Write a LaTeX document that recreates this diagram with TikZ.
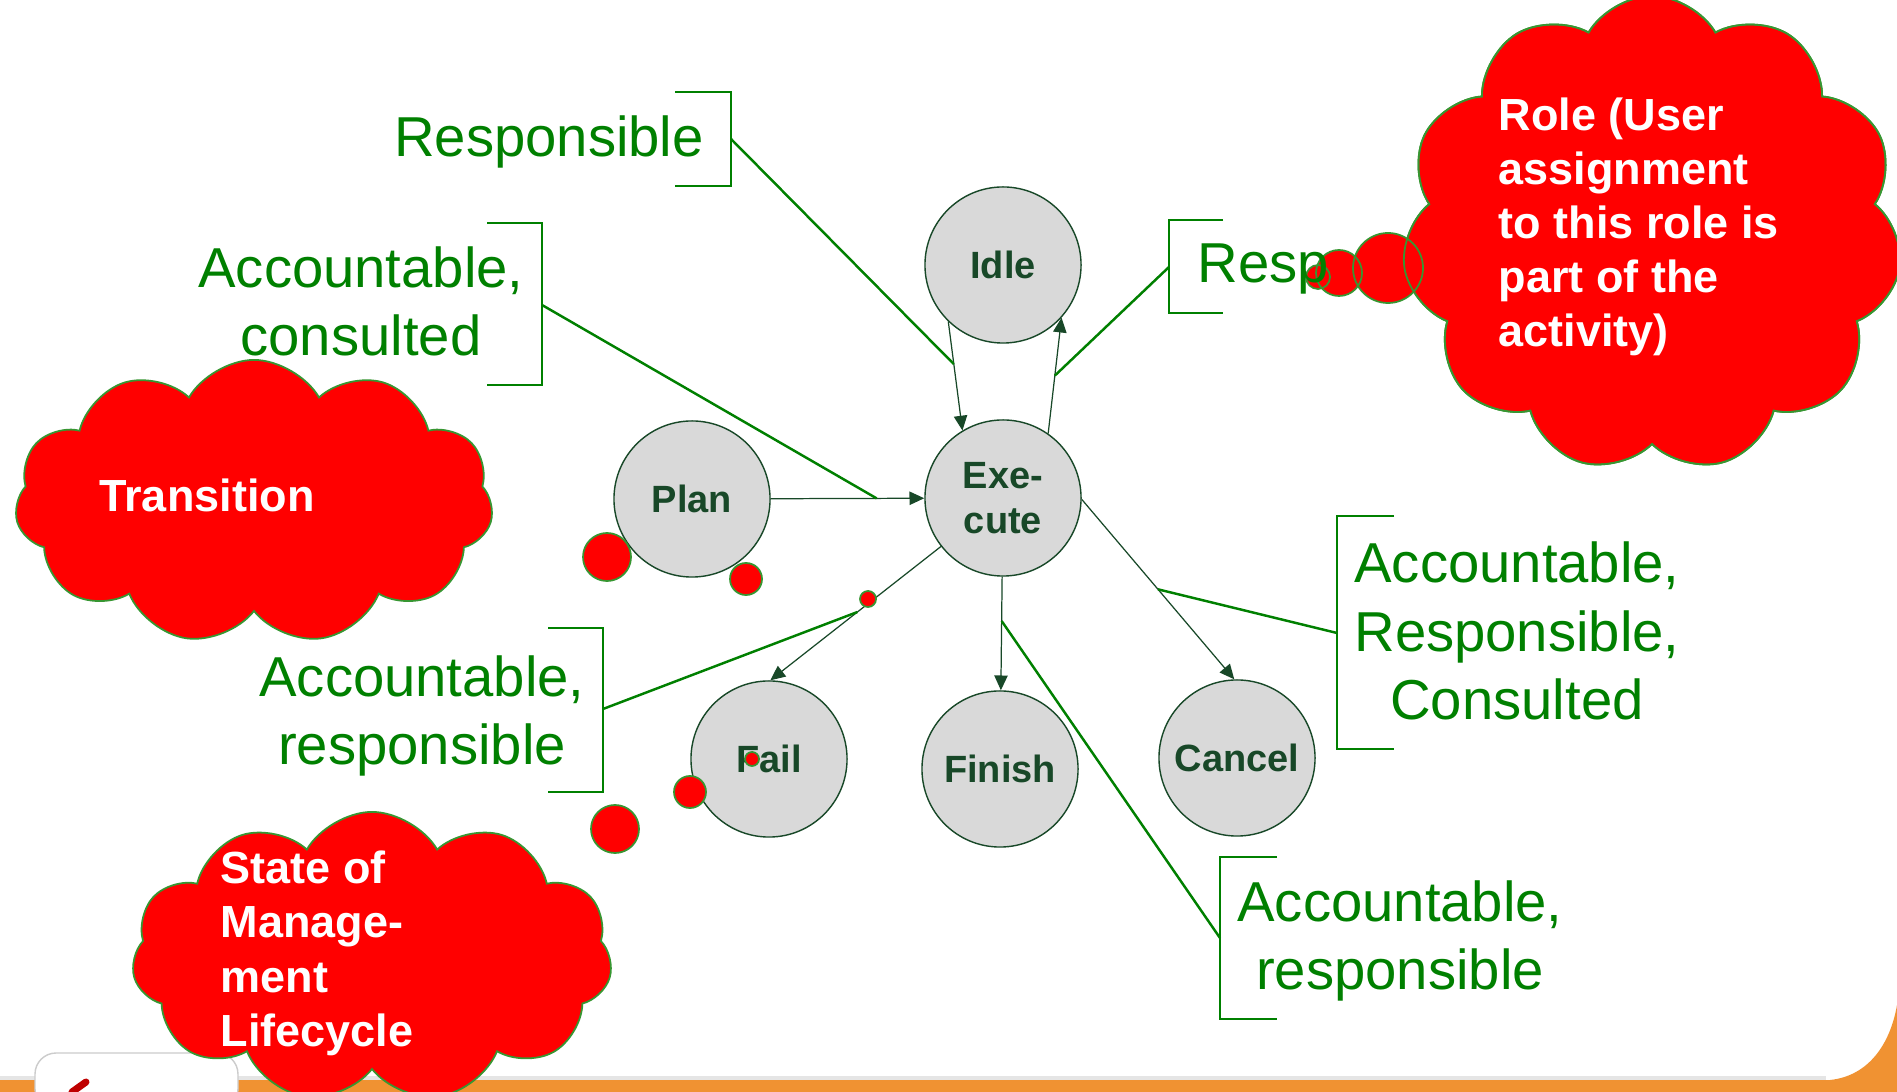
\documentclass[tikz,border=0pt]{standalone}
\usepackage{fontspec}
\setmainfont{Liberation Sans}
\usetikzlibrary{arrows.meta,shapes.symbols}

\definecolor{racigreen}{RGB}{0,128,0}
\definecolor{statefill}{RGB}{217,217,217}
\definecolor{statetext}{RGB}{24,72,40}
\definecolor{cloudline}{RGB}{55,150,50}
\definecolor{barorange}{RGB}{240,146,50}

\tikzset{
  state/.style={circle, draw=statetext, fill=statefill, minimum size=1.56cm, inner sep=0pt,
    font=\bfseries\fontsize{10.8}{12.8}\selectfont, text=statetext, align=center, line width=0.4pt},
  trans/.style={draw=statetext, line width=0.35pt, -{Triangle[length=4.2pt,width=3.8pt]}},
  rolelink/.style={draw=racigreen, line width=0.7pt},
  bracket/.style={draw=racigreen, line width=0.7pt},
  raci/.style={text=racigreen, align=center, inner sep=0pt},
  puff/.style={cloud, cloud puffs=11, cloud puff arc=120, cloud ignores aspect,
    fill=red, draw=cloudline, line width=0.5pt, inner sep=0pt},
  cloudtext/.style={text=white, align=left, inner sep=0pt, font=\bfseries\fontsize{12.8}{15.5}\selectfont},
}

\begin{document}
\begin{tikzpicture}[x=0.01cm, y=-0.01cm]
  \useasboundingbox (0,0) rectangle (1897,1092);
  % page and footer
  \fill[white] (0,0) rectangle (1897,1092);
  \fill[barorange] (0,1080) -- (1830,1080) .. controls (1868,1076) and (1890,1045) .. (1897,1005)
    -- (1897,1092) -- (0,1092) -- cycle;
  \draw[black!10, line width=1pt] (0,1078) -- (1826,1078);
  \filldraw[fill=white, draw=black!20, rounded corners=6pt] (35,1053) rectangle (238,1110);
  \draw[red!75!black, line width=2pt, line cap=round] (72,1092) -- (86,1082);

  % states
  \node[state] (idle) at (1003,265) {Idle};
  \node[state] (exec) at (1003,498) {Exe-\\cute};
  \node[state] (plan) at (692,499) {Plan};
  \node[state] (fail) at (769,759) {Fail};
  \node[state] (finish) at (1000,769) {Finish};
  \node[state] (cancel) at (1237,758) {Cancel};

  % transitions
  \draw[trans] (idle.226) -- (exec.121) coordinate[pos=0.39] (tIdleExec);
  \draw[trans] (exec.55) -- (idle.318) coordinate[pos=0.5] (tExecIdle);
  \draw[trans] (plan) -- (exec) coordinate[pos=0.69] (tPlanExec);
  \draw[trans] (exec.218) -- (fail.89) coordinate[pos=0.49] (tExecFail);
  \draw[trans] (exec) -- (finish) coordinate[pos=0.39] (tExecFinish);
  \draw[trans] (exec.-1) -- (cancel.92) coordinate[pos=0.5] (tExecCancel);

  % roles on the transitions
  \draw[bracket] (675,92) -| (731,186) -- (675,186);
  \coordinate (bResp) at (731,139);
  \node[raci, anchor=base, font=\fontsize{16}{19}\selectfont] (lResp) at (549,157) {Responsible};
  \draw[rolelink] (bResp) -- (tIdleExec);

  \draw[bracket] (487,223) -| (542,385) -- (487,385);
  \coordinate (bAccCon) at (542,305);
  \node[raci, anchor=base, font=\fontsize{16}{19.6}\selectfont] (lAccCon) at (361,356) {Accountable,\\consulted};
  \draw[rolelink] (bAccCon) -- (tPlanExec);

  \draw[bracket] (1223,220) -| (1169,313) -- (1223,313);
  \coordinate (bRespIdle) at (1169,267);
  \draw[rolelink] (bRespIdle) -- (tExecIdle);

  \draw[bracket] (1394,516) -| (1337,749) -- (1394,749);
  \coordinate (bAccResCon) at (1337,633);
  \node[raci, anchor=base, font=\fontsize{16}{19.5}\selectfont] (lAccResCon) at (1517,720) {Accountable,\\Responsible,\\Consulted};
  \draw[rolelink] (bAccResCon) -- (tExecCancel);

  \draw[bracket] (1277,857) -| (1220,1019) -- (1277,1019);
  \coordinate (bAccResFin) at (1220,938);
  \node[raci, anchor=base, font=\fontsize{16}{19.3}\selectfont] (lAccResFin) at (1400,989) {Accountable,\\responsible};
  \draw[rolelink] (bAccResFin) -- (tExecFinish);

  \draw[bracket] (548,628) -| (603,792) -- (548,792);
  \coordinate (bAccResFail) at (603,709);
  \node[raci, anchor=base, font=\fontsize{16}{19.6}\selectfont] (lAccResFail) at (422,765) {Accountable,\\responsible};
  \draw[rolelink] (bAccResFail) -- (tExecFail);

  % callouts
  \node[puff, minimum width=4.78cm, minimum height=2.84cm] (transCloud) at (254,502) {};
  \node[puff, minimum width=4.8cm, minimum height=2.9cm] (stateCloud) at (372,957) {};
  \node[puff, minimum width=5.0cm, minimum height=4.76cm] (roleCloud) at (1652,234) {};
  \foreach \cx/\cy/\r in {607/557/24, 746/579/16, 868/599/8, 615/829/24, 690/792/16, 752/759/7,
                          1388/268/35, 1339/273/23, 1318/277/12}
    \fill[red] (\cx,\cy) circle[radius=\r];
  \foreach \cx/\cy/\r in {607/557/24, 746/579/16, 868/599/8, 615/829/24, 690/792/16, 752/759/7,
                          1388/268/35, 1339/273/23, 1318/277/12}
    \draw[cloudline, line width=0.5pt] (\cx,\cy) circle[radius=\r];
  \node[puff, fill=none, minimum width=5.0cm, minimum height=4.76cm] (roleCloudRim) at (roleCloud) {};

  \node[cloudtext, anchor=base] (transText) at (207,512) {Transition};
  \node[cloudtext, anchor=base west] (stateText) at (220,1047) {State of\\Manage-\\ment\\Lifecycle};
  \node[cloudtext, anchor=base west, font=\bfseries\fontsize{12.8}{15.4}\selectfont] (roleText) at (1498,347)
    {Role (User\\assignment\\to this role is\\part of the\\activity)};
  \node[raci, anchor=base west, font=\fontsize{16}{19}\selectfont] (lRespIdle) at (1197,283) {Resp};
\end{tikzpicture}
\end{document}
